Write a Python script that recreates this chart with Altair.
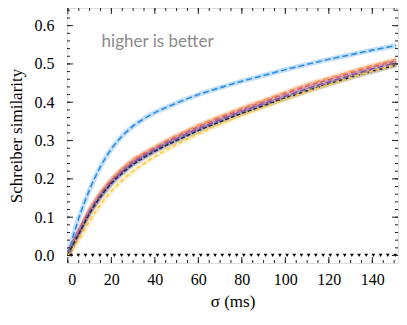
import altair as alt
import pandas as pd

# ---- data ----
sigma = [0, 2, 5, 10, 15, 20, 25, 30, 35, 40, 45, 50, 60, 70, 80, 90, 100, 110, 120, 130, 140, 151]

blue   = [0.0, 0.042, 0.097, 0.172, 0.232, 0.278, 0.312, 0.338, 0.357, 0.373, 0.386, 0.398, 0.420, 0.438, 0.455, 0.470, 0.485, 0.499, 0.512, 0.524, 0.536, 0.548]
orange = [0.0, 0.025, 0.060, 0.118, 0.163, 0.199, 0.227, 0.250, 0.268, 0.283, 0.299, 0.313, 0.340, 0.363, 0.385, 0.405, 0.426, 0.446, 0.463, 0.480, 0.496, 0.512]
pink   = [0.0, 0.027, 0.062, 0.118, 0.161, 0.196, 0.224, 0.247, 0.265, 0.280, 0.296, 0.310, 0.336, 0.359, 0.381, 0.401, 0.422, 0.442, 0.459, 0.476, 0.492, 0.508]
purple = [0.0, 0.025, 0.058, 0.113, 0.156, 0.191, 0.219, 0.242, 0.260, 0.276, 0.291, 0.305, 0.331, 0.354, 0.376, 0.396, 0.416, 0.436, 0.453, 0.470, 0.487, 0.503]
navy   = [0.0, 0.024, 0.056, 0.110, 0.153, 0.188, 0.215, 0.238, 0.256, 0.272, 0.287, 0.300, 0.326, 0.349, 0.371, 0.391, 0.411, 0.430, 0.448, 0.465, 0.481, 0.497]
yellow = [0.0, 0.014, 0.041, 0.090, 0.133, 0.168, 0.196, 0.220, 0.240, 0.258, 0.275, 0.290, 0.318, 0.343, 0.366, 0.387, 0.408, 0.428, 0.446, 0.464, 0.481, 0.498]

series_names = ["blue", "orange", "pink", "purple", "navy", "yellow"]
series_vals = [blue, orange, pink, purple, navy, yellow]
colors = ["#2a8de6", "#f39a4e", "#d6606f", "#8a52a0", "#1f2b5c", "#ffc93f"]
dashes = [[6, 3], [6, 3], [5, 3], [6, 3], [4, 2], [4, 3]]

marker_sigma = [1.5, 4.8, 8.1, 11.4, 14.7, 18.1, 21.4, 24.7, 28.0, 31.3, 34.6, 37.9, 41.2,
                44.5, 47.8, 51.2, 54.5, 57.8, 61.1, 64.4, 67.7, 71.0, 74.3, 77.6, 80.9,
                84.3, 87.6, 90.9, 94.2, 97.5, 100.8, 104.1, 107.4, 110.7, 114.0, 117.4,
                120.7, 124.0, 127.3, 130.6, 133.9, 137.2, 140.5, 143.8, 147.1, 150.5]
marker_val = [0.0] * len(marker_sigma)

x_major = [0, 20, 40, 60, 80, 100, 120, 140]
x_minor = [0, 5, 10, 15, 20, 25, 30, 35, 40, 45, 50, 55, 60, 65, 70, 75, 80, 85, 90, 95,
           100, 105, 110, 115, 120, 125, 130, 135, 140, 145, 150]
y_major = [0.0, 0.1, 0.2, 0.3, 0.4, 0.5, 0.6]
y_minor = [0.0, 0.02, 0.04, 0.06, 0.08, 0.1, 0.12, 0.14, 0.16, 0.18, 0.2, 0.22, 0.24, 0.26,
           0.28, 0.3, 0.32, 0.34, 0.36, 0.38, 0.4, 0.42, 0.44, 0.46, 0.48, 0.5, 0.52, 0.54,
           0.56, 0.58, 0.6, 0.62, 0.64]

note_text = ["higher is better"]
note_x = [15.5]
note_y = [0.544]

# ---- build tables ----
rows = []
for name, vals in zip(series_names, series_vals):
    for s, v in zip(sigma, vals):
        rows.append({"sigma": s, "val": v, "series": name})
df = pd.DataFrame(rows)
markers = pd.DataFrame({"sigma": marker_sigma, "val": marker_val})

W, H = 331, 255
XDOM = [-0.4, 151.8]
YDOM = [-0.0196, 0.646]
SERIF = "Liberation Serif"

xs = alt.Scale(domain=XDOM, nice=False, zero=False)
ys = alt.Scale(domain=YDOM, nice=False, zero=False)

XAX = alt.Axis(values=x_major, title="σ (ms)", labelPadding=8, titlePadding=6, format="d")
YAX = alt.Axis(values=y_major, title="Schreiber similarity", labelPadding=13,
               titlePadding=9, format=".1f")


def X(field):
    return alt.X(field, scale=xs, axis=XAX)


def Y(field):
    return alt.Y(field, scale=ys, axis=YAX)


col = alt.Color("series:N", scale=alt.Scale(domain=series_names, range=colors), legend=None)
dash = alt.StrokeDash("series:N", scale=alt.Scale(domain=series_names, range=dashes), legend=None)

base = alt.Chart(df)

bands = base.mark_line(strokeWidth=5, opacity=0.28, interpolate="monotone", clip=True).encode(
    x=X("sigma:Q"), y=Y("val:Q"), color=col, detail="series:N",
)

lines = base.mark_line(strokeWidth=1.6, interpolate="monotone", clip=True).encode(
    x=X("sigma:Q"), y=Y("val:Q"), color=col, strokeDash=dash,
)

tri = alt.Chart(markers).mark_point(shape="triangle-down", filled=True, color="#000",
                                      size=14, opacity=1).encode(
    x=X("sigma:Q"), y=Y("val:Q"),
)

note = alt.Chart(pd.DataFrame({"t": note_text, "x": note_x, "y": note_y})).mark_text(
    align="left", baseline="alphabetic", font="Lato", fontSize=17, color="#8a8a8a"
).encode(x=X("x:Q"), y=Y("y:Q"), text="t:N")


def xticks(vals, length):
    d = pd.DataFrame({"v": vals})
    bot = alt.Chart(d).mark_rule(color="#222", strokeWidth=1).encode(
        x=X("v:Q"), y=alt.value(H), y2=alt.value(H - length))
    top = alt.Chart(d).mark_rule(color="#222", strokeWidth=1).encode(
        x=X("v:Q"), y=alt.value(0), y2=alt.value(length))
    return [bot, top]


def yticks(vals, length):
    d = pd.DataFrame({"v": vals})
    left = alt.Chart(d).mark_rule(color="#222", strokeWidth=1).encode(
        y=Y("v:Q"), x=alt.value(0), x2=alt.value(length))
    right = alt.Chart(d).mark_rule(color="#222", strokeWidth=1).encode(
        y=Y("v:Q"), x=alt.value(W), x2=alt.value(W - length))
    return [left, right]


tick_layers = xticks(x_major, 6) + xticks(x_minor, 3) + yticks(y_major, 6) + yticks(y_minor, 3)

chart = alt.layer(bands, lines, tri, note, *tick_layers).properties(
    width=W, height=H,
    autosize=alt.AutoSizeParams(type="none"),
    padding={"left": 59, "top": 0, "right": 1, "bottom": 54},
).configure_view(stroke="#222", strokeWidth=1.6).configure(background="white").configure_axis(
    ticks=False, domain=False, grid=False,
    labelFont=SERIF, labelFontSize=16, labelColor="#000",
    titleFont=SERIF, titleFontSize=17, titleFontWeight="normal", titleColor="#000",
)

chart.save("out.html", embed_options={"renderer": "svg", "actions": False})
